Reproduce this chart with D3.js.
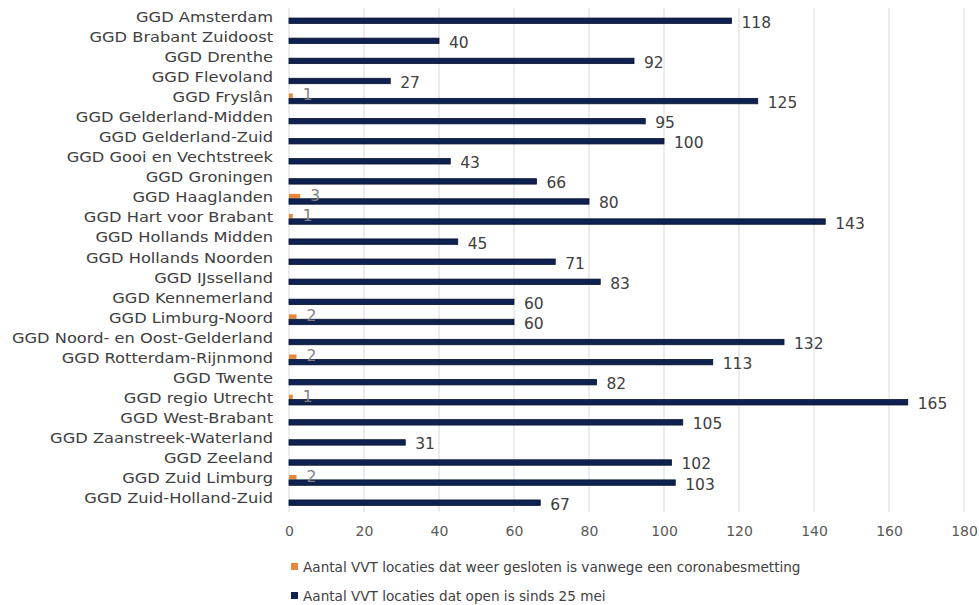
<!DOCTYPE html>
<html>
<head>
<meta charset="utf-8">
<script src="https://cdn.jsdelivr.net/npm/d3@7"></script>
<style>
  body { margin: 0; background: #fff; }
  svg text { font-family: "DejaVu Sans", Verdana, sans-serif; }
</style>
</head>
<body>
<svg id="chart" width="979" height="605"></svg>
<script>
// data
const regions = [
  "GGD Amsterdam", "GGD Brabant Zuidoost", "GGD Drenthe", "GGD Flevoland",
  "GGD Fryslân", "GGD Gelderland-Midden", "GGD Gelderland-Zuid",
  "GGD Gooi en Vechtstreek", "GGD Groningen", "GGD Haaglanden",
  "GGD Hart voor Brabant", "GGD Hollands Midden", "GGD Hollands Noorden",
  "GGD IJsselland", "GGD Kennemerland", "GGD Limburg-Noord",
  "GGD Noord- en Oost-Gelderland", "GGD Rotterdam-Rijnmond", "GGD Twente",
  "GGD regio Utrecht", "GGD West-Brabant", "GGD Zaanstreek-Waterland",
  "GGD Zeeland", "GGD Zuid Limburg", "GGD Zuid-Holland-Zuid"
];
const closedAgain = [0, 0, 0, 0, 1, 0, 0, 0, 0, 3, 1, 0, 0, 0, 0, 2, 0, 2, 0, 1, 0, 0, 0, 2, 0];
const openSince = [118, 40, 92, 27, 125, 95, 100, 43, 66, 80, 143, 45, 71, 83, 60, 60, 132, 113, 82, 165, 105, 31, 102, 103, 67];
const xTicks = [0, 20, 40, 60, 80, 100, 120, 140, 160, 180];
const seriesNames = [
  "Aantal VVT locaties dat weer gesloten is vanwege een coronabesmetting",
  "Aantal VVT locaties dat open is sinds 25 mei"
];
const seriesColors = ["#e8883a", "#0f2150"];

const svg = d3.select("#chart");
const margin = {top: 8, right: 15, bottom: 95, left: 289};
const width = 979 - margin.left - margin.right;
const height = 605 - margin.top - margin.bottom;

const g = svg.append("g").attr("transform", `translate(${margin.left},${margin.top})`);

const x = d3.scaleLinear().domain([0, 180]).range([0, 675]);
const y = d3.scaleBand().domain(regions).range([0, height]).padding(0);
const ySub = d3.scaleBand().domain([0, 1]).range([0, y.bandwidth()]).paddingOuter(0.85).paddingInner(0);

// gridlines
g.append("g")
  .selectAll("line")
  .data(xTicks)
  .join("line")
  .attr("x1", d => x(d)).attr("x2", d => x(d))
  .attr("y1", 0).attr("y2", height + 2)
  .attr("stroke", "#d9d9d9")
  .attr("stroke-width", 1);

// x axis labels
const xAxis = g.append("g")
  .attr("transform", `translate(0,${height})`)
  .call(d3.axisBottom(x).tickValues(xTicks).tickSize(0).tickPadding(16));
xAxis.select(".domain").remove();
xAxis.selectAll("text").attr("font-size", 14).attr("fill", "#595959");

// y axis labels (the source font is wider than DejaVu, so stretch a bit)
const labelScale = 1.16;
const yAxis = g.append("g")
  .call(d3.axisLeft(y).tickSize(0));
yAxis.select(".domain").remove();
yAxis.selectAll("text")
  .attr("font-size", 14)
  .attr("fill", "#404040")
  .attr("dy", "0.25em")
  .attr("x", -16 / labelScale)
  .attr("transform", `scale(${labelScale},1)`);

const rows = regions.map((r, i) => ({region: r, vals: [closedAgain[i], openSince[i]]}));

const grp = g.selectAll(".row")
  .data(rows)
  .join("g")
  .attr("class", "row")
  .attr("transform", d => `translate(0,${y(d.region)})`);

// bars
grp.selectAll("rect")
  .data(d => d.vals.map((v, k) => ({v, k})))
  .join("rect")
  .attr("x", x(0))
  .attr("y", d => ySub(d.k) + (d.k === 0 ? 0.5 : 0))
  .attr("width", d => x(d.v) - x(0))
  .attr("height", d => ySub.bandwidth() - (d.k === 0 ? 1 : 0))
  .attr("fill", d => seriesColors[d.k])
  .attr("stroke", d => d.k === 1 ? "#08132e" : "none")
  .attr("stroke-width", 0.8);

// value labels (zeros are not shown)
grp.selectAll("text.val")
  .data(d => d.vals.map((v, k) => ({v, k})).filter(d => d.v > 0))
  .join("text")
  .attr("class", "val")
  .attr("x", d => x(d.v) + 10)
  .attr("y", d => ySub(d.k) + ySub.bandwidth() / 2)
  .attr("dy", d => d.k === 1 ? "0.45em" : "0.3em")
  .attr("font-size", 15.5)
  .attr("fill", d => d.k === 1 ? "#404040" : "#808080")
  .text(d => d.v);

// legend
const legend = svg.append("g").attr("transform", "translate(291,560)");
seriesNames.forEach((name, k) => {
  const row = legend.append("g").attr("transform", `translate(0,${k * 29})`);
  row.append("rect").attr("x", 0).attr("y", 3).attr("width", 7).attr("height", 7).attr("fill", seriesColors[k]);
  row.append("text").attr("x", 12).attr("y", 7).attr("dy", "0.35em")
    .attr("font-size", 13.6).attr("fill", "#404040").text(name);
});
</script>
</body>
</html>
